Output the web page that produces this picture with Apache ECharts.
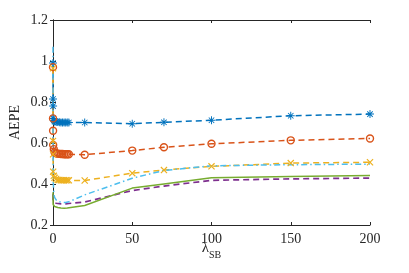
<!DOCTYPE html>
<html><head><meta charset="utf-8">
<script src="https://cdn.jsdelivr.net/npm/echarts@6/dist/echarts.min.js"></script>
<style>html,body{margin:0;padding:0;background:#fff}#c{width:409px;height:273px}</style>
</head><body><div id="c"></div>
<script>
const lambdaSB = [0, 0.01, 0.05, 0.1, 0.5, 1, 2, 3, 4, 5, 6, 7, 8, 9, 10, 20, 50, 70, 100, 150, 200];
const sBlue   = [0.99, 0.815, 0.78, 0.72, 0.71, 0.705, 0.703, 0.702, 0.701, 0.70, 0.70, 0.70, 0.70, 0.70, 0.70, 0.70, 0.694, 0.701, 0.711, 0.733, 0.741];
const sOrange = [0.97, 0.72, 0.66, 0.59, 0.57, 0.555, 0.55, 0.548, 0.547, 0.546, 0.546, 0.545, 0.545, 0.545, 0.545, 0.543, 0.563, 0.579, 0.596, 0.613, 0.622];
const sYellow = [0.965, 0.61, 0.545, 0.46, 0.44, 0.43, 0.425, 0.42, 0.42, 0.418, 0.418, 0.418, 0.418, 0.418, 0.418, 0.417, 0.453, 0.468, 0.486, 0.502, 0.506];
const sPurple = [0.35, 0.33, 0.32, 0.315, 0.31, 0.308, 0.306, 0.305, 0.304, 0.303, 0.303, 0.303, 0.303, 0.304, 0.305, 0.312, 0.368, 0.39, 0.418, 0.425, 0.429];
const sGreen  = [0.36, 0.33, 0.31, 0.30, 0.295, 0.29, 0.287, 0.285, 0.284, 0.283, 0.283, 0.282, 0.282, 0.283, 0.284, 0.295, 0.38, 0.40, 0.43, 0.437, 0.442];
const sCyan   = [1.07, 0.75, 0.55, 0.42, 0.355, 0.335, 0.322, 0.316, 0.313, 0.311, 0.31, 0.31, 0.31, 0.311, 0.313, 0.347, 0.428, 0.466, 0.489, 0.494, 0.497];
const xTicks = [0, 50, 100, 150, 200];
const yTicks = [0.2, 0.4, 0.6, 0.8, 1, 1.2];

const FONT = 'Liberation Serif';
const AX = '#262626';
const pairs = ys => lambdaSB.map((x, i) => [x, ys[i]]);
const starPath = 'path://M44,0L56,0L56,100L44,100ZM0,56L0,44L100,44L100,56ZM12,20L20,12L88,80L80,88ZM80,12L88,20L20,88L12,80Z';
const xPath = 'path://M0,12L12,0L100,88L88,100ZM88,0L100,12L12,100L0,88Z';

function ser(name, ys, color, dash, width, symbol, size, itemStyle) {
  return {
    name, type: 'line', data: pairs(ys), smooth: false,
    showSymbol: !!symbol, symbol: symbol || 'none', symbolSize: size || 0,
    lineStyle: { color, width, type: dash },
    itemStyle: itemStyle || { color },
    emphasis: { disabled: true }, animation: false
  };
}

const chart = echarts.init(document.getElementById('c'), null, { renderer: 'canvas' });
chart.setOption({
  animation: false,
  grid: { left: 53, right: 39, top: 20, bottom: 48 },
  xAxis: [{
    type: 'value', min: 0, max: 200, interval: 50, position: 'bottom',
    name: '{a|λ}{b|SB}', nameLocation: 'middle', nameGap: 16, nameMoveOverlap: false,
    nameTextStyle: { rich: {
      a: { fontFamily: FONT, fontSize: 15, color: AX, verticalAlign: 'top', lineHeight: 16 },
      b: { fontFamily: FONT, fontSize: 10, color: AX, verticalAlign: 'top', lineHeight: 10, padding: [9, 0, 0, 0] }
    } },
    axisLine: { show: true, lineStyle: { color: AX, width: 1 } },
    axisTick: { show: true, inside: true, length: 3, lineStyle: { color: AX } },
    axisLabel: { fontFamily: FONT, fontSize: 14, color: AX, margin: 7 },
    splitLine: { show: false }
  }, {
    type: 'value', min: 0, max: 200, interval: 50, position: 'top',
    axisLine: { show: true, lineStyle: { color: AX, width: 1 } },
    axisTick: { show: true, inside: true, length: 3, lineStyle: { color: AX } },
    axisLabel: { show: false }, splitLine: { show: false }
  }],
  yAxis: [{
    type: 'value', min: 0.2, max: 1.2, interval: 0.2, position: 'left',
    name: 'AEPE', nameLocation: 'middle', nameGap: 31, nameMoveOverlap: false,
    nameTextStyle: { fontFamily: FONT, fontSize: 14, color: AX },
    axisLine: { show: true, lineStyle: { color: AX, width: 1 } },
    axisTick: { show: true, inside: true, length: 3, lineStyle: { color: AX } },
    axisLabel: { fontFamily: FONT, fontSize: 14, color: AX, margin: 5,
      formatter: v => String(Math.round(v * 10) / 10) },
    splitLine: { show: false }
  }, {
    type: 'value', min: 0.2, max: 1.2, interval: 0.2, position: 'right',
    axisLine: { show: true, lineStyle: { color: AX, width: 1 } },
    axisTick: { show: true, inside: true, length: 3, lineStyle: { color: AX } },
    axisLabel: { show: false }, splitLine: { show: false }
  }],
  series: [
    ser('blue', sBlue, '#0072BD', [6, 4], 1.5, starPath, 8),
    ser('orange', sOrange, '#D95319', [6, 4], 1.5, 'circle', 7,
        { color: 'rgba(0,0,0,0)', borderColor: '#D95319', borderWidth: 1.4 }),
    ser('yellow', sYellow, '#EDB120', [6, 4], 1.5, xPath, 7),
    ser('purple', sPurple, '#7E2F8E', [6, 4], 1.7, null, 0),
    ser('green', sGreen, '#77AC30', 'solid', 1.5, null, 0),
    ser('cyan', sCyan, '#4DBEEE', [6, 3, 1.5, 3], 1.5, null, 0)
  ]
});
</script></body></html>
